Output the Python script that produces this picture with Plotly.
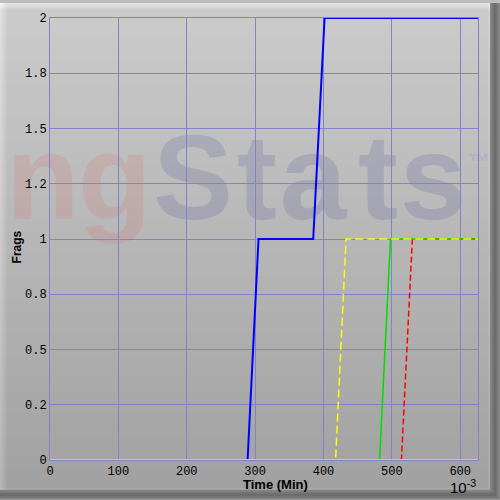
import base64
import struct
import zlib

import numpy as np
import plotly.graph_objects as go

# ---------------- data (time in 10^-3 min, frags) ----------------
blue_x = [0, 289, 305, 385, 401.6, 626]
blue_y = [0, 0, 1, 1, 2, 2]
yellow_x = [0, 417.7, 433, 626]
yellow_y = [0, 0, 1, 1]
green_x = [0, 482, 498, 626]
green_y = [0, 0, 1, 1]
red_x = [0, 514, 530, 626]
red_y = [0, 0, 1, 1]
pink_x = [0, 626]
pink_y = [0, 0]

x_tickvals = [0, 100, 200, 300, 400, 500, 600]
y_tickvals = [0, 0.25, 0.5, 0.75, 1, 1.25, 1.5, 1.75, 2]
y_ticktext = ["0", "0.2", "0.5", "0.8", "1", "1.2", "1.5", "1.8", "2"]

# watermark letters and their pixel centres
wm_letters = ["n", "g", "S", "t", "a", "t", "s"]
wm_centres = [43, 115, 193, 257, 313, 378, 433]
wm_colors = ["rgba(215,120,120,0.22)"] * 2 + ["rgba(90,90,160,0.22)"] * 5

# ---------------- background image (gradient panel with bevel) ----------------
W = H = 500
yy, xx = np.mgrid[0:H, 0:W].astype(float)
img = 204.0 - 0.0874 * yy
img += np.clip(7 - yy, 0, 7) * 3.5
img += np.clip(7 - xx, 0, 7) * 3.0
edge = 490.0
d = np.maximum(xx - edge, yy - edge)
dark = np.clip(1 - np.abs(d - 4.5) / 6.0, 0, 1)
img = np.where(d >= 0, 105 + (1 - dark) * 40, img)
img += np.where((d > -3) & (d < 0), 6, 0)
img = np.clip(img, 0, 255).astype(np.uint8)
arr = np.stack([img, img, img], axis=-1)


def png_bytes(a):
    h, w, _ = a.shape
    raw = b"".join(b"\x00" + a[r].tobytes() for r in range(h))

    def chunk(t, dd):
        c = struct.pack(">I", len(dd)) + t + dd
        return c + struct.pack(">I", zlib.crc32(t + dd) & 0xFFFFFFFF)

    return (b"\x89PNG\r\n\x1a\n"
            + chunk(b"IHDR", struct.pack(">IIBBBBB", w, h, 8, 2, 0, 0, 0))
            + chunk(b"IDAT", zlib.compress(raw, 9))
            + chunk(b"IEND", b""))


bg_uri = "data:image/png;base64," + base64.b64encode(png_bytes(arr)).decode()

# ---------------- figure ----------------
ML, MR, MT, MB = 50, 22, 15, 40
PW = W - ML - MR
PH = H - MT - MB


def px_x(p):
    return (p - ML) / PW


def px_y(p):
    return 1 - (p - MT) / PH


fig = go.Figure()
fig.add_trace(go.Scatter(x=red_x, y=red_y, mode="lines",
                         line=dict(color="#ff0000", width=1.5, dash="6px,3px")))
fig.add_trace(go.Scatter(x=green_x, y=green_y, mode="lines",
                         line=dict(color="#00dd00", width=1.5)))
fig.add_trace(go.Scatter(x=yellow_x, y=yellow_y, mode="lines",
                         line=dict(color="#ffff00", width=1.5, dash="8px,4px")))
fig.add_trace(go.Scatter(x=blue_x, y=blue_y, mode="lines",
                         line=dict(color="#0000ff", width=2)))
fig.add_trace(go.Scatter(x=pink_x, y=pink_y, mode="lines",
                         line=dict(color="#f4a4f4", width=2)))

shapes = []
for ch, c, col in zip(wm_letters, wm_centres, wm_colors):
    shapes.append(dict(type="rect", xref="paper", yref="paper",
                       x0=px_x(c - 40), x1=px_x(c + 40),
                       y0=px_y(224), y1=px_y(104),
                       line=dict(width=0), fillcolor="rgba(0,0,0,0)", layer="below",
                       label=dict(text="<b>%s</b>" % ch, textposition="middle center",
                                  font=dict(family="Liberation Sans", size=120, color=col))))
shapes.append(dict(type="rect", xref="paper", yref="paper", x0=px_x(466), x1=px_x(492),
                   y0=px_y(166), y1=px_y(148), line=dict(width=0),
                   fillcolor="rgba(0,0,0,0)", layer="below",
                   label=dict(text="<b>™</b>", textposition="middle center",
                              font=dict(family="Liberation Sans", size=22,
                                        color="rgba(150,150,190,0.35)"))))

grid = "#8282cc"
fig.update_layout(
    width=W, height=H,
    margin=dict(l=ML, r=MR, t=MT, b=MB),
    paper_bgcolor="#bcbcbc",
    plot_bgcolor="rgba(0,0,0,0)",
    showlegend=False,
    font=dict(family="Liberation Mono", size=12, color="black"),
    xaxis=dict(range=[0, 626], tickvals=x_tickvals, showgrid=True, gridcolor=grid,
               gridwidth=1, zeroline=False, showline=True, linecolor=grid, mirror=True,
               ticks="", tickfont=dict(family="Liberation Mono", size=12)),
    yaxis=dict(range=[0, 2], tickvals=y_tickvals, ticktext=y_ticktext, showgrid=True,
               gridcolor=grid, gridwidth=1, zeroline=False, showline=True, linecolor=grid,
               mirror=True, ticks="", tickfont=dict(family="Liberation Mono", size=12)),
    images=[dict(source=bg_uri, xref="paper", yref="paper", x=px_x(0), y=px_y(0),
                 sizex=W / PW, sizey=H / PH, xanchor="left", yanchor="top",
                 sizing="stretch", layer="below")],
    shapes=shapes,
    annotations=[
        dict(text="<b>Time (Min)</b>", xref="paper", yref="paper",
             x=px_x(275), y=px_y(485), xanchor="center", yanchor="middle",
             showarrow=False, font=dict(family="Liberation Sans", size=13)),
        dict(text="<b>Frags</b>", xref="paper", yref="paper", textangle=-90,
             x=px_x(17), y=px_y(246), xanchor="center", yanchor="middle",
             showarrow=False, font=dict(family="Liberation Sans", size=12)),
        dict(text="10<sup>-3</sup>", xref="paper", yref="paper",
             x=px_x(478), y=px_y(487), xanchor="right", yanchor="middle",
             showarrow=False, font=dict(family="Liberation Sans", size=15)),
    ],
)

fig.write_html("out.html", config={"displayModeBar": False},
               post_script="document.body.style.margin='0';")
